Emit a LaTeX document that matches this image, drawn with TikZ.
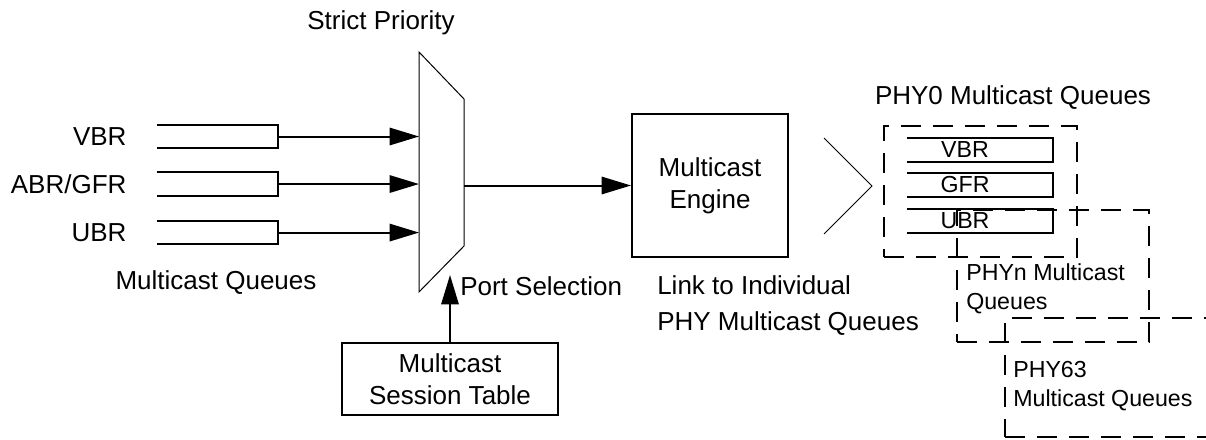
\documentclass[tikz,border=0pt]{standalone}
\usepackage{fontspec}
\setmainfont{Liberation Sans}
\usetikzlibrary{arrows.meta,positioning}

\begin{document}
\begin{tikzpicture}
      [ x=0.75pt, y=-0.75pt,
        font=\fontsize{19.5}{24}\selectfont,
        arr/.style={-{Triangle[length=22pt,width=13pt]}, line width=1.5pt},
        qline/.style={line width=1.5pt},
        thinline/.style={line width=0.75pt},
        queue/.style={minimum width=90.75pt, minimum height=17.25pt, inner sep=0pt},
        phyq/.style={minimum width=109.5pt, minimum height=18pt, inner sep=0pt},
        box/.style={draw, line width=1.5pt, align=center, inner sep=0pt},
        group/.style={draw, dash pattern=on 15pt off 9pt, line width=1.5pt, inner sep=0pt},
        small/.style={font=\fontsize{17.4}{21.75}\selectfont, inner sep=0pt, align=left},
        lbl/.style={inner sep=0pt, align=left}
      ]
      \useasboundingbox (0,0) rectangle (1206,439);

      % input queues
      \node[queue]  (vbr)    at (217.5,136.5)   {};
      \node[queue]  (abr)    [below=18pt of vbr] {};
      \node[queue]  (ubr)    [below=18.75pt of abr] {};
      \node[lbl]    (vbrlbl) [left=22.5pt of vbr] {VBR};
      \node[lbl]    (abrlbl) [left=22.5pt of abr] {ABR/GFR};
      \node[lbl]    (ubrlbl) [left=22.5pt of ubr] {UBR};
      \node[lbl]    (mq)     at (216,283)       {Multicast Queues};

      % strict priority mux
      \draw[thinline] (419,52) -- (464,99) -- (464,246) -- (419,292) -- cycle;
      \coordinate (muxl)   at (419,185.5);
      \coordinate (muxout) at (464,185.5);
      \coordinate (portin) at (450,275);
      \node[lbl]    (sp)     at (381,23)        {Strict Priority};

      \node[box, minimum width=117pt, minimum height=107.25pt]
                    (engine) at (710,185.5)     {Multicast\\Engine};
      \node[box, minimum width=162pt, minimum height=54pt]
                    (session) at (450,379)      {Multicast\\Session Table};
      \node[lbl, anchor=west]       (portlbl) at (460,286) {Port Selection};
      \node[lbl, anchor=north west, font=\fontsize{19.5}{27}\selectfont]
                    (link)    at (657,275)
                    {Link to Individual\\PHY Multicast Queues};

      \foreach \q in {vbr,abr,ubr}
        \draw[arr] (\q.east) -- (\q.east -| muxl);
      \draw[arr] (muxout) -- (engine.west);
      \draw[arr] (session.north) -- (portin);

      % fan out to the PHY queues
      \draw[thinline] (824,138) -- (872,186) -- (824,234);

      \node[lbl]    (phy0lbl) at (1013,98)      {PHY0 Multicast Queues};
      \node[group, minimum width=144.75pt, minimum height=98.25pt]
                    (phy0)   at (980.5,191.5)   {};
      \node[phyq]   (p0vbr)  at (980,150)       {};
      \node[phyq]   (p0gfr)  at (980,185)       {};
      \node[phyq]   (p0ubr)  at (980,221)       {};
      \node[small]  at ([xshift=-11.25pt]p0vbr) {VBR};
      \node[small]  at ([xshift=-11.25pt]p0gfr) {GFR};
      \node[small]  at ([xshift=-11.25pt]p0ubr) {UBR};

      \foreach \q in {vbr,abr,ubr,p0vbr,p0gfr,p0ubr}
        \draw[qline] (\q.north west) -| (\q.south east) -- (\q.south west);

      \node[group, minimum width=144pt, minimum height=99pt]
                    (phyn)   at (1053,276)      {};
      \node[small, anchor=north west] (phynlbl) at (966,263)
                    {PHYn Multicast\\Queues};
      \node[group, minimum width=157.5pt, minimum height=89.25pt]
                    (phy63)  at (1110,377.5)    {};
      \node[small, anchor=north west] (phy63lbl) at (1013,361)
                    {PHY63\\Multicast Queues};
\end{tikzpicture}
\end{document}
